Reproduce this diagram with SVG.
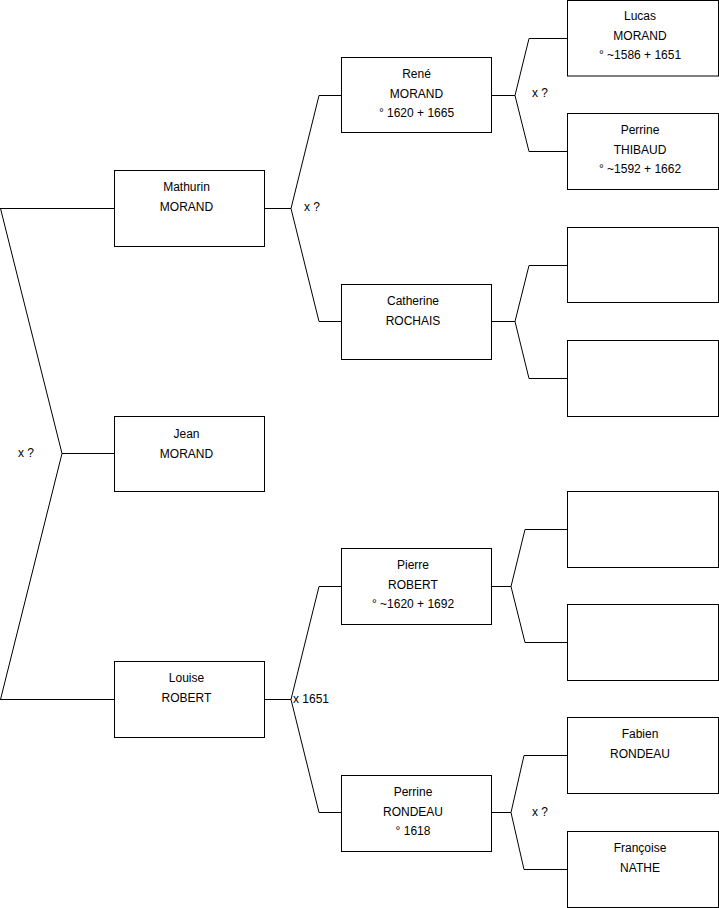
<svg xmlns="http://www.w3.org/2000/svg" width="719" height="908" viewBox="0 0 719 908">
<style>
.box{fill:#fff;stroke:#000;stroke-width:1}
.t{font-family:"Liberation Sans",Arial,sans-serif;font-size:12px;fill:#000;text-anchor:middle}
.l{font-family:"Liberation Sans",Arial,sans-serif;font-size:12px;fill:#000}
.c{fill:none;stroke:#000;stroke-width:1}
</style>
<rect width="719" height="908" fill="#fff"/>
<g id="connectors">
<path class="c" d="M0,208.5 H114.5 M0,699.5 H114.5 M0.5,208.5 L62,453.5 L0.5,699.5 M62,453.5 H114.5"/>
<path class="c" d="M265,208.5 H291 M341.5,95.5 H319 L291,208.5 L319,321.5 H341.5"/>
<path class="c" d="M265,699.5 H291 M341.5,586.5 H319 L291,699.5 L319,812.5 H341.5"/>
<path class="c" d="M492,95.5 H515 M567.5,38.5 H529 L515,95.5 L529,151.5 H567.5"/>
<path class="c" d="M492,321.5 H515 M567.5,265.5 H529 L515,321.5 L529,378.5 H567.5"/>
<path class="c" d="M492,586.5 H511 M567.5,529.5 H525 L511,586.5 L525,642.5 H567.5"/>
<path class="c" d="M492,812.5 H511 M567.5,755.5 H524 L511,812.5 L524,869.5 H567.5"/>
<text class="l" x="18" y="457">x ?</text>
<text class="l" x="304" y="211">x ?</text>
<text class="l" x="532" y="97">x ?</text>
<text class="l" x="293" y="703">x 1651</text>
<text class="l" x="532" y="816">x ?</text>
</g>
<g id="mathurin"><rect class="box" x="114.5" y="170.5" width="150" height="76"/><text class="t" x="186.5" y="191">Mathurin</text><text class="t" x="186.5" y="210.5">MORAND</text></g>
<g id="jean"><rect class="box" x="114.5" y="416.5" width="150" height="75"/><text class="t" x="186.5" y="438">Jean</text><text class="t" x="186.5" y="457.5">MORAND</text></g>
<g id="louise"><rect class="box" x="114.5" y="661.5" width="150" height="76"/><text class="t" x="186.5" y="682">Louise</text><text class="t" x="186.5" y="701.5">ROBERT</text></g>
<g id="rene"><rect class="box" x="341.5" y="57.5" width="150" height="75"/><text class="t" x="416.5" y="78">René</text><text class="t" x="416.5" y="97.5">MORAND</text><text class="t" x="416.5" y="117">° 1620 + 1665</text></g>
<g id="catherine"><rect class="box" x="341.5" y="284.5" width="150" height="75"/><text class="t" x="413" y="305">Catherine</text><text class="t" x="413" y="324.5">ROCHAIS</text></g>
<g id="pierre"><rect class="box" x="341.5" y="548.5" width="150" height="76"/><text class="t" x="413" y="569">Pierre</text><text class="t" x="413" y="588.5">ROBERT</text><text class="t" x="413" y="608">° ~1620 + 1692</text></g>
<g id="perrine-rondeau"><rect class="box" x="341.5" y="775.5" width="150" height="76"/><text class="t" x="413" y="796">Perrine</text><text class="t" x="413" y="815.5">RONDEAU</text><text class="t" x="413" y="835">° 1618</text></g>
<g id="lucas"><rect class="box" x="567.5" y="0.5" width="151" height="75.5"/><text class="t" x="640" y="20">Lucas</text><text class="t" x="640" y="39.5">MORAND</text><text class="t" x="640" y="59">° ~1586 + 1651</text></g>
<g id="perrine-thibaud"><rect class="box" x="567.5" y="113.5" width="151" height="76"/><text class="t" x="640" y="134">Perrine</text><text class="t" x="640" y="153.5">THIBAUD</text><text class="t" x="640" y="173">° ~1592 + 1662</text></g>
<g id="empty1"><rect class="box" x="567.5" y="227.5" width="151" height="75"/></g>
<g id="empty2"><rect class="box" x="567.5" y="340.5" width="151" height="76"/></g>
<g id="empty3"><rect class="box" x="567.5" y="491.5" width="151" height="76"/></g>
<g id="empty4"><rect class="box" x="567.5" y="604.5" width="151" height="76"/></g>
<g id="fabien"><rect class="box" x="567.5" y="717.5" width="151" height="76"/><text class="t" x="640" y="738">Fabien</text><text class="t" x="640" y="757.5">RONDEAU</text></g>
<g id="francoise"><rect class="box" x="567.5" y="831.5" width="151" height="76"/><text class="t" x="640" y="852">Françoise</text><text class="t" x="640" y="871.5">NATHE</text></g>
</svg>
